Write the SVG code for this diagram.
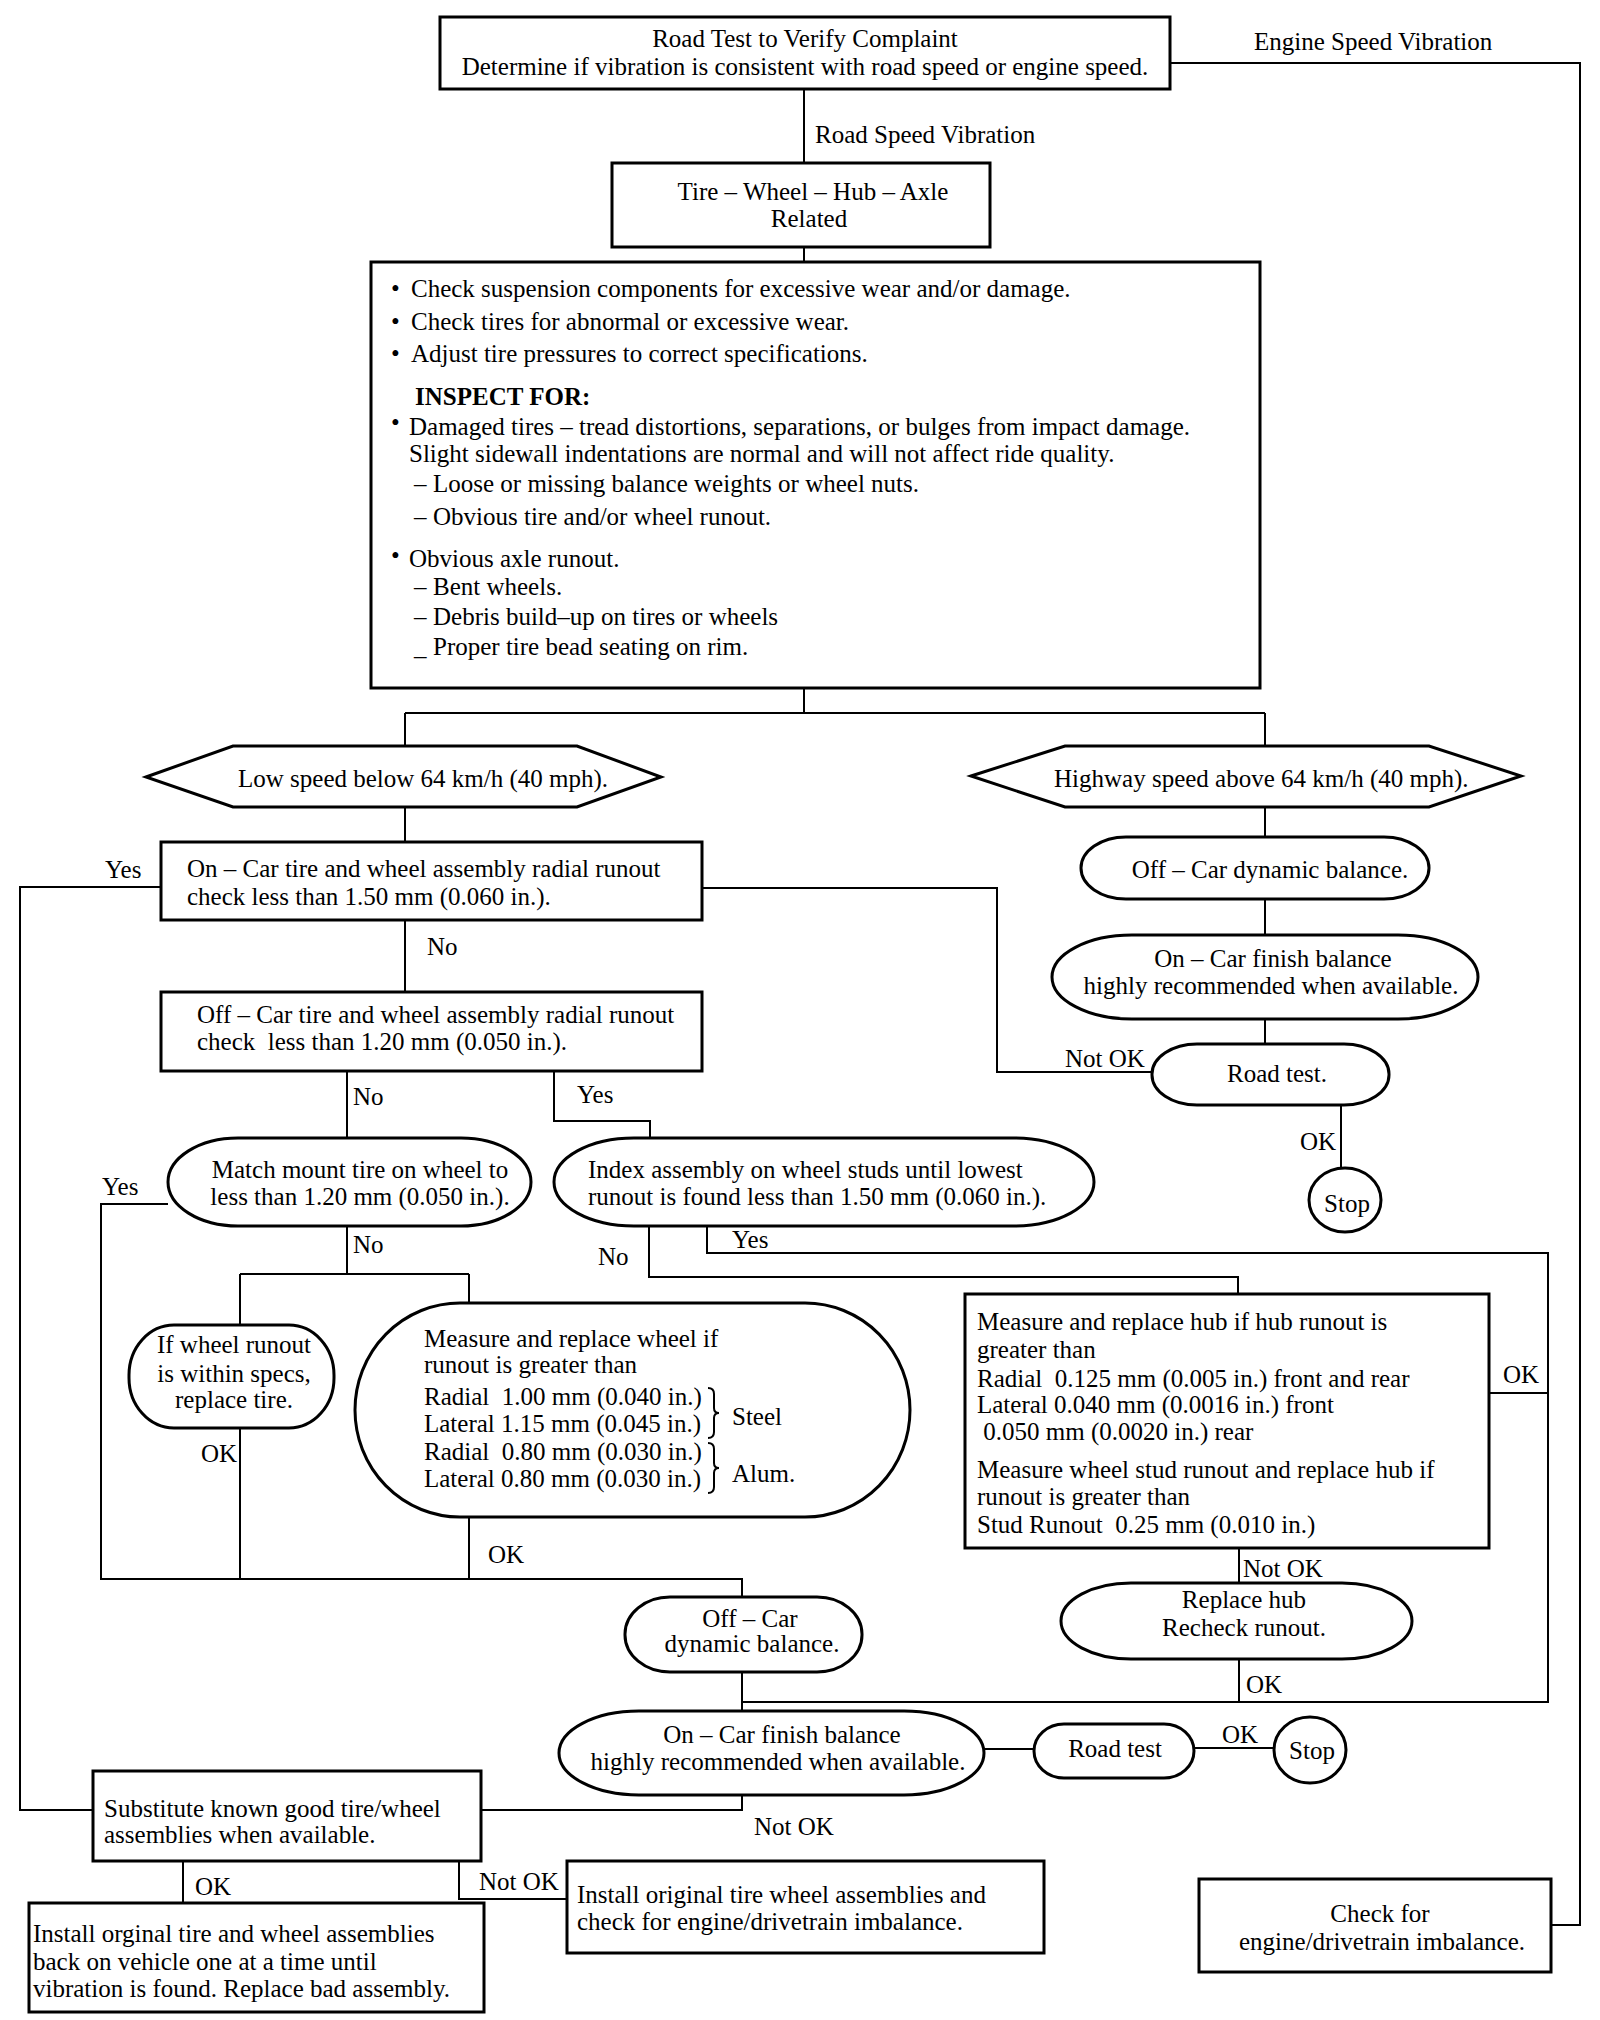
<svg xmlns="http://www.w3.org/2000/svg" width="1600" height="2020" viewBox="0 0 1600 2020">
<style>
text{font-family:"Liberation Serif","Times New Roman",serif;font-size:25px;fill:#000;white-space:pre}
.c{text-anchor:middle}
.b{font-weight:bold}
.box{fill:#fff;stroke:#000;stroke-width:3}
.conn{fill:none;stroke:#000;stroke-width:2}
</style>
<rect width="1600" height="2020" fill="#fff"/>
<g id="connectors">
<path class="conn" d="M1170,63 H1580 V1925 H1551"/>
<path class="conn" d="M804,89 V163"/>
<path class="conn" d="M804,247 V262"/>
<path class="conn" d="M804,688 V713 M405,713 H1265 M405,713 V746 M1265,713 V746"/>
<path class="conn" d="M405,807 V842"/>
<path class="conn" d="M161,887 H20 V1810 H93"/>
<path class="conn" d="M702,888 H997 V1072 H1152"/>
<path class="conn" d="M405,920 V992"/>
<path class="conn" d="M347,1071 V1138"/>
<path class="conn" d="M554,1071 V1121 H650 V1138"/>
<path class="conn" d="M168,1204 H101 V1579 H742 V1597"/>
<path class="conn" d="M649,1226 V1277 H1238 V1294"/>
<path class="conn" d="M707,1226 V1253 H1548 V1702 H742"/>
<path class="conn" d="M347,1226 V1274 M240,1274 H469 M240,1274 V1325 M469,1274 V1303"/>
<path class="conn" d="M240,1428 V1579"/>
<path class="conn" d="M469,1517 V1579"/>
<path class="conn" d="M742,1672 V1711"/>
<path class="conn" d="M1489,1393 H1548"/>
<path class="conn" d="M1239,1548 V1583"/>
<path class="conn" d="M1239,1659 V1702"/>
<path class="conn" d="M984,1749 H1034"/>
<path class="conn" d="M1194,1748 H1274"/>
<path class="conn" d="M742,1795 V1810 H481"/>
<path class="conn" d="M183,1861 V1903"/>
<path class="conn" d="M459,1861 V1899 H567"/>
<path class="conn" d="M1265,807 V837"/>
<path class="conn" d="M1265,899 V935"/>
<path class="conn" d="M1265,1019 V1044"/>
<path class="conn" d="M1341,1105 V1169"/>
</g>
<g id="labels">
<text x="1254" y="50">Engine Speed Vibration</text>
<text x="815" y="143">Road Speed Vibration</text>
<text x="105" y="878">Yes</text>
<text x="427" y="955">No</text>
<text x="1065" y="1067">Not OK</text>
<text x="353" y="1105">No</text>
<text x="577" y="1103">Yes</text>
<text x="102" y="1195">Yes</text>
<text x="353" y="1253">No</text>
<text x="598" y="1265">No</text>
<text x="732" y="1248">Yes</text>
<text x="201" y="1462">OK</text>
<text x="488" y="1563">OK</text>
<text x="1503" y="1383">OK</text>
<text x="1243" y="1577">Not OK</text>
<text x="1246" y="1693">OK</text>
<text x="1222" y="1743">OK</text>
<text x="754" y="1835">Not OK</text>
<text x="195" y="1895">OK</text>
<text x="479" y="1890">Not OK</text>
<text x="1300" y="1150">OK</text>
</g>
<g id="n-top">
<rect class="box" x="440" y="17" width="730" height="72"/>
<text class="c" x="805" y="47">Road Test to Verify Complaint</text>
<text class="c" x="805" y="75">Determine if vibration is consistent with road speed or engine speed.</text>
</g>
<g id="n-tire">
<rect class="box" x="612" y="163" width="378" height="84"/>
<text class="c" x="813" y="200">Tire – Wheel – Hub – Axle</text>
<text class="c" x="809" y="227">Related</text>
</g>
<g id="n-inspect">
<rect class="box" x="371" y="262" width="889" height="426"/>
<text x="391" y="297">•</text><text x="411" y="297">Check suspension components for excessive wear and/or damage.</text>
<text x="391" y="330">•</text><text x="411" y="330">Check tires for abnormal or excessive wear.</text>
<text x="391" y="362">•</text><text x="411" y="362">Adjust tire pressures to correct specifications.</text>
<text class="b" x="415" y="405">INSPECT FOR:</text>
<text x="391" y="431">•</text><text x="409" y="435">Damaged tires – tread distortions, separations, or bulges from impact damage.</text>
<text x="409" y="462">Slight sidewall indentations are normal and will not affect ride quality.</text>
<text x="414" y="492">–</text><text x="433" y="492">Loose or missing balance weights or wheel nuts.</text>
<text x="414" y="525">–</text><text x="433" y="525">Obvious tire and/or wheel runout.</text>
<text x="391" y="564">•</text><text x="409" y="567">Obvious axle runout.</text>
<text x="414" y="595">–</text><text x="433" y="595">Bent wheels.</text>
<text x="414" y="625">–</text><text x="433" y="625">Debris build–up on tires or wheels</text>
<text x="414" y="655">_</text><text x="433" y="655">Proper tire bead seating on rim.</text>
</g>
<g id="n-low">
<polygon class="box" points="146,777 233,746 577,746 661,777 577,807 233,807"/>
<text x="238" y="787">Low speed below 64 km/h (40 mph).</text>
</g>
<g id="n-high">
<polygon class="box" points="971,776 1065,746 1429,746 1521,776 1429,807 1065,807"/>
<text x="1054" y="787">Highway speed above 64 km/h (40 mph).</text>
</g>
<g id="n-on">
<rect class="box" x="161" y="842" width="541" height="78"/>
<text x="187" y="877">On – Car tire and wheel assembly radial runout</text>
<text x="187" y="905">check less than 1.50 mm (0.060 in.).</text>
</g>
<g id="n-off">
<rect class="box" x="161" y="992" width="541" height="79"/>
<text x="197" y="1023">Off – Car tire and wheel assembly radial runout</text>
<text x="197" y="1050">check  less than 1.20 mm (0.050 in.).</text>
</g>
<g id="n-match">
<rect class="box" x="168" y="1138" width="363" height="88" rx="70" ry="44"/>
<text class="c" x="360" y="1178">Match mount tire on wheel to</text>
<text class="c" x="360" y="1205">less than 1.20 mm (0.050 in.).</text>
</g>
<g id="n-index">
<rect class="box" x="554" y="1138" width="540" height="88" rx="80" ry="44"/>
<text x="588" y="1178">Index assembly on wheel studs until lowest</text>
<text x="588" y="1205">runout is found less than 1.50 mm (0.060 in.).</text>
</g>
<g id="n-ifwheel">
<rect class="box" x="129" y="1325" width="205" height="103" rx="45" ry="50"/>
<text class="c" x="234" y="1353">If wheel runout</text>
<text class="c" x="234" y="1382">is within specs,</text>
<text class="c" x="234" y="1408">replace tire.</text>
</g>
<g id="n-wheel">
<rect class="box" x="355" y="1303" width="555" height="214" rx="105" ry="107"/>
<text x="424" y="1347">Measure and replace wheel if</text>
<text x="424" y="1373">runout is greater than</text>
<text x="424" y="1405">Radial  1.00 mm (0.040 in.)</text>
<text x="424" y="1432">Lateral 1.15 mm (0.045 in.)</text>
<text x="424" y="1460">Radial  0.80 mm (0.030 in.)</text>
<text x="424" y="1487">Lateral 0.80 mm (0.030 in.)</text>
<path class="conn" d="M708,1388 q6,0 6,6 v14 q0,5 5,5 q-5,0 -5,5 v14 q0,6 -6,6 M708,1443 q6,0 6,6 v14 q0,5 5,5 q-5,0 -5,5 v14 q0,6 -6,6"/>
<text x="732" y="1425">Steel</text>
<text x="732" y="1482">Alum.</text>
</g>
<g id="n-hub">
<rect class="box" x="965" y="1294" width="524" height="254"/>
<text x="977" y="1330">Measure and replace hub if hub runout is</text>
<text x="977" y="1358">greater than</text>
<text x="977" y="1387">Radial  0.125 mm (0.005 in.) front and rear</text>
<text x="977" y="1413">Lateral 0.040 mm (0.0016 in.) front</text>
<text x="977" y="1440"> 0.050 mm (0.0020 in.) rear</text>
<text x="977" y="1478">Measure wheel stud runout and replace hub if</text>
<text x="977" y="1505">runout is greater than</text>
<text x="977" y="1533">Stud Runout  0.25 mm (0.010 in.)</text>
</g>
<g id="n-offcar-r">
<rect class="box" x="1081" y="837" width="348" height="62" rx="45" ry="31"/>
<text class="c" x="1270" y="878">Off – Car dynamic balance.</text>
</g>
<g id="n-oncar-r">
<rect class="box" x="1052" y="935" width="426" height="84" rx="80" ry="42"/>
<text class="c" x="1273" y="967">On – Car finish balance</text>
<text class="c" x="1271" y="994">highly recommended when available.</text>
</g>
<g id="n-roadtest-r">
<rect class="box" x="1152" y="1044" width="237" height="61" rx="45" ry="30"/>
<text class="c" x="1277" y="1082">Road test.</text>
</g>
<g id="n-stop-r">
<ellipse class="box" cx="1345" cy="1200" rx="36" ry="32"/>
<text class="c" x="1347" y="1212">Stop</text>
</g>
<g id="n-offcar-b">
<rect class="box" x="625" y="1597" width="237" height="75" rx="45" ry="37"/>
<text class="c" x="750" y="1627">Off – Car</text>
<text class="c" x="752" y="1652">dynamic balance.</text>
</g>
<g id="n-replacehub">
<rect class="box" x="1061" y="1583" width="351" height="76" rx="70" ry="38"/>
<text class="c" x="1244" y="1608">Replace hub</text>
<text class="c" x="1244" y="1636">Recheck runout.</text>
</g>
<g id="n-oncar-b">
<rect class="box" x="559" y="1711" width="425" height="84" rx="80" ry="42"/>
<text class="c" x="782" y="1743">On – Car finish balance</text>
<text class="c" x="778" y="1770">highly recommended when available.</text>
</g>
<g id="n-roadtest-b">
<rect class="box" x="1034" y="1724" width="160" height="54" rx="30" ry="27"/>
<text class="c" x="1115" y="1757">Road test</text>
</g>
<g id="n-stop-b">
<ellipse class="box" cx="1310" cy="1750" rx="36" ry="33"/>
<text class="c" x="1312" y="1759">Stop</text>
</g>
<g id="n-substitute">
<rect class="box" x="93" y="1771" width="388" height="90"/>
<text x="104" y="1817">Substitute known good tire/wheel</text>
<text x="104" y="1843">assemblies when available.</text>
</g>
<g id="n-install-one">
<rect class="box" x="29" y="1903" width="455" height="109"/>
<text x="33" y="1942">Install orginal tire and wheel assemblies</text>
<text x="33" y="1970">back on vehicle one at a time until</text>
<text x="33" y="1997">vibration is found. Replace bad assembly.</text>
</g>
<g id="n-install-orig">
<rect class="box" x="567" y="1861" width="477" height="92"/>
<text x="577" y="1903">Install original tire wheel assemblies and</text>
<text x="577" y="1930">check for engine/drivetrain imbalance.</text>
</g>
<g id="n-check">
<rect class="box" x="1199" y="1879" width="352" height="93"/>
<text class="c" x="1380" y="1922">Check for</text>
<text class="c" x="1382" y="1950">engine/drivetrain imbalance.</text>
</g>
</svg>
